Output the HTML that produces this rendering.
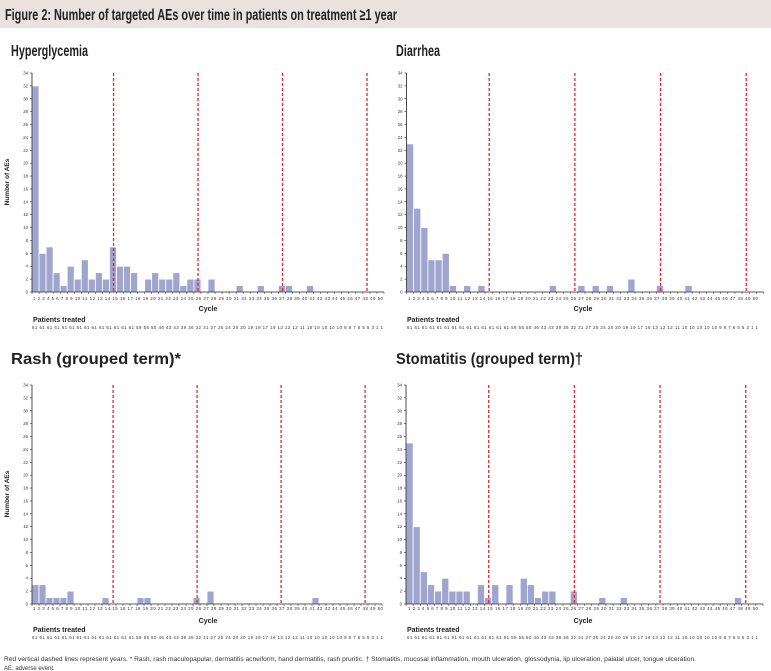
<!DOCTYPE html>
<html><head><meta charset="utf-8"><style>
html,body{margin:0;padding:0;background:#fff}
svg{display:block;font-family:"Liberation Sans",sans-serif}
</style></head><body>
<svg id="s" width="771" height="671" viewBox="0 0 771 671" xmlns="http://www.w3.org/2000/svg">
<defs>
<g id="yl" font-size="4.3" fill="#333" text-anchor="end">
<text x="-4" y="1.5">0</text><text x="-4" y="-11.4">2</text><text x="-4" y="-24.3">4</text><text x="-4" y="-37.1">6</text><text x="-4" y="-50">8</text><text x="-4" y="-62.9">10</text><text x="-4" y="-75.8">12</text><text x="-4" y="-88.7">14</text><text x="-4" y="-101.5">16</text><text x="-4" y="-114.4">18</text><text x="-4" y="-127.3">20</text><text x="-4" y="-140.2">22</text><text x="-4" y="-153.1">24</text><text x="-4" y="-165.9">26</text><text x="-4" y="-178.8">28</text><text x="-4" y="-191.7">30</text><text x="-4" y="-204.6">32</text><text x="-4" y="-217.5">34</text>
</g>
<g id="xl" fill="#333">
<text x="1" y="8" font-size="4.4" textLength="350" lengthAdjust="spacing">1 2 3 4 5 6 7 8 9 10 11 12 13 14 15 16 17 18 19 20 21 22 23 24 25 26 27 28 29 30 31 32 33 34 35 36 37 38 39 40 41 42 43 44 45 46 47 48 49 50</text>
</g>
<g id="pl" fill="#333">
<text x="0" y="38" font-size="4.4" textLength="351" lengthAdjust="spacing">61 61 61 61 61 61 61 61 61 61 61 61 61 61 59 55 50 46 43 43 39 36 32 31 27 25 24 20 20 19 19 17 16 13 12 12 11 10 10 10 10 10 9 8 7 6 5 5 3 1 1</text>
</g>
</defs>
<rect x="0" y="0" width="771" height="28" fill="#e9e2df"/>
<text x="5" y="20" font-size="16" font-weight="bold" fill="#222" textLength="392" lengthAdjust="spacingAndGlyphs">Figure 2: Number of targeted AEs over time in patients on treatment ≥1 year</text>
<g font-size="16" font-weight="bold" fill="#222">
<text x="11" y="56" textLength="77" lengthAdjust="spacingAndGlyphs">Hyperglycemia</text>
<text x="396" y="56" textLength="44" lengthAdjust="spacingAndGlyphs">Diarrhea</text>
<text x="11" y="364" textLength="170" lengthAdjust="spacingAndGlyphs">Rash (grouped term)*</text>
<text x="396" y="364" textLength="187" lengthAdjust="spacingAndGlyphs">Stomatitis (grouped term)†</text>
</g>
<g id="charts"></g>
<text x="4" y="661" font-size="6" fill="#333" textLength="692" lengthAdjust="spacingAndGlyphs">Red vertical dashed lines represent years. * Rash, rash maculopapular, dermatitis acneiform, hand dermatitis, rash pruritic. † Stomatitis, mucosal inflammation, mouth ulceration, glossodynia, lip ulceration, palatal ulcer, tongue ulceration.</text>
<text x="4" y="670" font-size="6" fill="#333">AE, adverse event.</text>
<g font-size="7" font-weight="bold" fill="#222">
<text x="208" y="311" text-anchor="middle">Cycle</text>
<text x="583" y="311" text-anchor="middle">Cycle</text>
<text x="208" y="623" text-anchor="middle">Cycle</text>
<text x="583" y="623" text-anchor="middle">Cycle</text>
<text x="33" y="322">Patients treated</text>
<text x="407" y="322">Patients treated</text>
<text x="33" y="632">Patients treated</text>
<text x="407" y="632">Patients treated</text>
<text transform="translate(9,182) rotate(-90)" text-anchor="middle" font-size="6.5">Number of AEs</text>
<text transform="translate(9,494) rotate(-90)" text-anchor="middle" font-size="6.5">Number of AEs</text>
</g>
<use href="#yl" x="32" y="292"/><use href="#yl" x="406.5" y="292"/>
<use href="#yl" x="32" y="604"/><use href="#yl" x="406" y="604"/>
<use href="#xl" x="32" y="292"/><use href="#xl" x="407" y="292"/>
<use href="#xl" x="32" y="602"/><use href="#xl" x="407" y="602"/>
<use href="#pl" x="32" y="291"/><use href="#pl" x="407" y="291"/>
<use href="#pl" x="32" y="601"/><use href="#pl" x="407" y="601"/>
</svg>
<script>
(function(){
var NS="http://www.w3.org/2000/svg",g=document.getElementById("charts");
function el(t,a){var e=document.createElementNS(NS,t);for(var k in a)e.setAttribute(k,a[k]);g.appendChild(e);return e;}
var U=219/34;
var charts=[
{x:32,y:292,w:7.04,d:{1:32,2:6,3:7,4:3,5:1,6:4,7:2,8:5,9:2,10:3,11:2,12:7,13:4,14:4,15:3,17:2,18:3,19:2,20:2,21:3,22:1,23:2,24:2,26:2,30:1,33:1,36:1,37:1,40:1}},
{x:406.5,y:292,w:7.14,d:{1:23,2:13,3:10,4:5,5:5,6:6,7:1,9:1,11:1,21:1,25:1,27:1,29:1,32:2,36:1,40:1}},
{x:32,y:604,w:7.0,d:{1:3,2:3,3:1,4:1,5:1,6:2,11:1,16:1,17:1,24:1,26:2,41:1}},
{x:406,y:604,w:7.14,d:{1:25,2:12,3:5,4:3,5:2,6:4,7:2,8:2,9:2,11:3,12:1,13:3,15:3,17:4,18:3,19:1,20:2,21:2,24:2,28:1,31:1,47:1}}
];
charts.forEach(function(c){
 for(var k in c.d){var i=+k-1,h=c.d[k]*U;
  el("rect",{x:c.x+i*c.w,y:c.y-h,width:c.w,height:h,fill:"#a0a5cf",stroke:"#fff","stroke-width":0.8});}
 var W=c.w*50;
 el("line",{x1:c.x,y1:c.y-219,x2:c.x,y2:c.y,stroke:"#222","stroke-width":0.8});
 el("line",{x1:c.x,y1:c.y,x2:c.x+W,y2:c.y,stroke:"#222","stroke-width":0.8});
 for(var j=0;j<=17;j++){var yy=c.y-j*2*U;el("line",{x1:c.x-2,y1:yy,x2:c.x,y2:yy,stroke:"#222","stroke-width":0.6});}
 for(var j=0;j<=50;j++){var xx=c.x+j*c.w;el("line",{x1:xx,y1:c.y,x2:xx,y2:c.y+2,stroke:"#222","stroke-width":0.5});}
 [12,24,36,48].forEach(function(n){var xx=c.x+(n-0.5)*c.w+0.6;
  el("line",{x1:xx,y1:c.y-219,x2:xx,y2:c.y,stroke:"#e3262f","stroke-width":1.3,"stroke-dasharray":"3,2"});});
});
})();
</script>
</body></html>
